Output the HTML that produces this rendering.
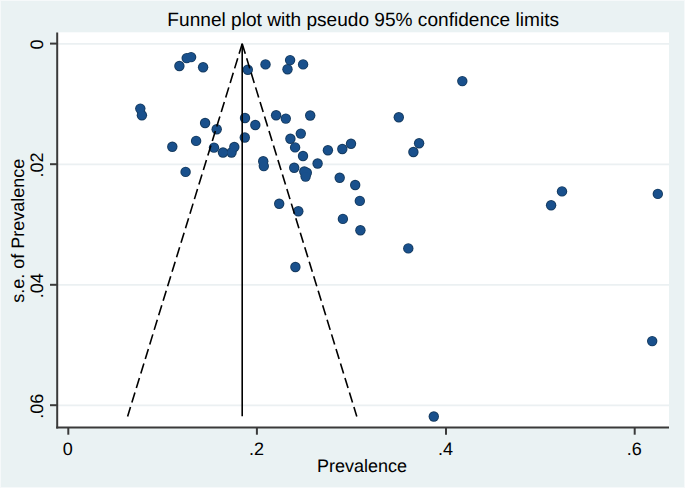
<!DOCTYPE html>
<html><head><meta charset="utf-8"><style>
html,body{margin:0;padding:0;background:#EAF2F3;}
body{width:685px;height:488px;overflow:hidden;}
svg{display:block;}
text{font-family:"Liberation Sans",sans-serif;fill:#000;text-rendering:geometricPrecision;}
</style></head><body>
<svg width="685" height="488" viewBox="0 0 685 488">
<rect x="0" y="0" width="685" height="488" fill="#F6F9FA"/>
<rect x="1" y="1" width="683" height="486" fill="#EAF2F3"/>
<rect x="58" y="32.3" width="611" height="395" fill="#FFFFFF"/>
<g stroke="#EBF0F2" stroke-width="1.8">
<line x1="58" y1="43.8" x2="669" y2="43.8"/>
<line x1="58" y1="164.3" x2="669" y2="164.3"/>
<line x1="58" y1="284.9" x2="669" y2="284.9"/>
<line x1="58" y1="405.3" x2="669" y2="405.3"/>
</g>
<g fill="#153A5E">
<circle cx="179.4" cy="66.0" r="5.2"/>
<circle cx="186.7" cy="58.1" r="5.2"/>
<circle cx="191.1" cy="57.1" r="5.2"/>
<circle cx="203.1" cy="67.3" r="5.2"/>
<circle cx="247.8" cy="69.7" r="5.2"/>
<circle cx="265.5" cy="64.4" r="5.2"/>
<circle cx="290.1" cy="60.1" r="5.2"/>
<circle cx="287.5" cy="69.3" r="5.2"/>
<circle cx="303.1" cy="64.4" r="5.2"/>
<circle cx="140.3" cy="108.6" r="5.2"/>
<circle cx="141.9" cy="115.3" r="5.2"/>
<circle cx="205.1" cy="123.0" r="5.2"/>
<circle cx="216.7" cy="129.3" r="5.2"/>
<circle cx="245.0" cy="118.0" r="5.2"/>
<circle cx="255.3" cy="125.0" r="5.2"/>
<circle cx="276.1" cy="115.3" r="5.2"/>
<circle cx="285.8" cy="118.6" r="5.2"/>
<circle cx="310.2" cy="115.5" r="5.2"/>
<circle cx="398.8" cy="117.3" r="5.2"/>
<circle cx="172.3" cy="146.8" r="5.2"/>
<circle cx="196.1" cy="140.9" r="5.2"/>
<circle cx="214.0" cy="147.6" r="5.2"/>
<circle cx="223.0" cy="152.5" r="5.2"/>
<circle cx="231.5" cy="152.5" r="5.2"/>
<circle cx="234.3" cy="147.0" r="5.2"/>
<circle cx="244.8" cy="137.5" r="5.2"/>
<circle cx="290.4" cy="138.7" r="5.2"/>
<circle cx="300.8" cy="133.6" r="5.2"/>
<circle cx="295.1" cy="147.4" r="5.2"/>
<circle cx="303.0" cy="156.0" r="5.2"/>
<circle cx="327.9" cy="150.3" r="5.2"/>
<circle cx="342.3" cy="149.0" r="5.2"/>
<circle cx="351.0" cy="143.8" r="5.2"/>
<circle cx="419.1" cy="143.2" r="5.2"/>
<circle cx="413.4" cy="152.0" r="5.2"/>
<circle cx="185.6" cy="171.9" r="5.2"/>
<circle cx="263.2" cy="161.3" r="5.2"/>
<circle cx="263.8" cy="166.1" r="5.2"/>
<circle cx="294.2" cy="167.7" r="5.2"/>
<circle cx="304.3" cy="171.5" r="5.2"/>
<circle cx="306.8" cy="172.8" r="5.2"/>
<circle cx="305.6" cy="176.6" r="5.2"/>
<circle cx="317.6" cy="163.5" r="5.2"/>
<circle cx="339.7" cy="177.7" r="5.2"/>
<circle cx="355.2" cy="185.0" r="5.2"/>
<circle cx="359.8" cy="200.9" r="5.2"/>
<circle cx="279.2" cy="203.8" r="5.2"/>
<circle cx="298.3" cy="211.2" r="5.2"/>
<circle cx="342.9" cy="218.9" r="5.2"/>
<circle cx="360.4" cy="230.2" r="5.2"/>
<circle cx="295.4" cy="267.0" r="5.2"/>
<circle cx="408.3" cy="248.4" r="5.2"/>
<circle cx="462.3" cy="81.1" r="5.2"/>
<circle cx="562.0" cy="191.4" r="5.2"/>
<circle cx="551.1" cy="205.2" r="5.2"/>
<circle cx="657.8" cy="193.9" r="5.2"/>
<circle cx="652.2" cy="341.1" r="5.2"/>
<circle cx="433.8" cy="416.5" r="5.2"/>
</g>
<g fill="#19508C">
<circle cx="179.4" cy="66.0" r="4.3"/>
<circle cx="186.7" cy="58.1" r="4.3"/>
<circle cx="191.1" cy="57.1" r="4.3"/>
<circle cx="203.1" cy="67.3" r="4.3"/>
<circle cx="247.8" cy="69.7" r="4.3"/>
<circle cx="265.5" cy="64.4" r="4.3"/>
<circle cx="290.1" cy="60.1" r="4.3"/>
<circle cx="287.5" cy="69.3" r="4.3"/>
<circle cx="303.1" cy="64.4" r="4.3"/>
<circle cx="140.3" cy="108.6" r="4.3"/>
<circle cx="141.9" cy="115.3" r="4.3"/>
<circle cx="205.1" cy="123.0" r="4.3"/>
<circle cx="216.7" cy="129.3" r="4.3"/>
<circle cx="245.0" cy="118.0" r="4.3"/>
<circle cx="255.3" cy="125.0" r="4.3"/>
<circle cx="276.1" cy="115.3" r="4.3"/>
<circle cx="285.8" cy="118.6" r="4.3"/>
<circle cx="310.2" cy="115.5" r="4.3"/>
<circle cx="398.8" cy="117.3" r="4.3"/>
<circle cx="172.3" cy="146.8" r="4.3"/>
<circle cx="196.1" cy="140.9" r="4.3"/>
<circle cx="214.0" cy="147.6" r="4.3"/>
<circle cx="223.0" cy="152.5" r="4.3"/>
<circle cx="231.5" cy="152.5" r="4.3"/>
<circle cx="234.3" cy="147.0" r="4.3"/>
<circle cx="244.8" cy="137.5" r="4.3"/>
<circle cx="290.4" cy="138.7" r="4.3"/>
<circle cx="300.8" cy="133.6" r="4.3"/>
<circle cx="295.1" cy="147.4" r="4.3"/>
<circle cx="303.0" cy="156.0" r="4.3"/>
<circle cx="327.9" cy="150.3" r="4.3"/>
<circle cx="342.3" cy="149.0" r="4.3"/>
<circle cx="351.0" cy="143.8" r="4.3"/>
<circle cx="419.1" cy="143.2" r="4.3"/>
<circle cx="413.4" cy="152.0" r="4.3"/>
<circle cx="185.6" cy="171.9" r="4.3"/>
<circle cx="263.2" cy="161.3" r="4.3"/>
<circle cx="263.8" cy="166.1" r="4.3"/>
<circle cx="294.2" cy="167.7" r="4.3"/>
<circle cx="304.3" cy="171.5" r="4.3"/>
<circle cx="306.8" cy="172.8" r="4.3"/>
<circle cx="305.6" cy="176.6" r="4.3"/>
<circle cx="317.6" cy="163.5" r="4.3"/>
<circle cx="339.7" cy="177.7" r="4.3"/>
<circle cx="355.2" cy="185.0" r="4.3"/>
<circle cx="359.8" cy="200.9" r="4.3"/>
<circle cx="279.2" cy="203.8" r="4.3"/>
<circle cx="298.3" cy="211.2" r="4.3"/>
<circle cx="342.9" cy="218.9" r="4.3"/>
<circle cx="360.4" cy="230.2" r="4.3"/>
<circle cx="295.4" cy="267.0" r="4.3"/>
<circle cx="408.3" cy="248.4" r="4.3"/>
<circle cx="462.3" cy="81.1" r="4.3"/>
<circle cx="562.0" cy="191.4" r="4.3"/>
<circle cx="551.1" cy="205.2" r="4.3"/>
<circle cx="657.8" cy="193.9" r="4.3"/>
<circle cx="652.2" cy="341.1" r="4.3"/>
<circle cx="433.8" cy="416.5" r="4.3"/>
</g>
<g stroke="#000" stroke-width="1.6" fill="none">
<line x1="242.2" y1="43.8" x2="242.2" y2="416.3"/>
<line x1="242.2" y1="43.8" x2="127.6" y2="416.4" stroke-dasharray="10.5 4.7"/>
<line x1="242.2" y1="43.8" x2="356.8" y2="416.4" stroke-dasharray="10.5 4.7"/>
</g>
<g stroke="#3a3a3a" stroke-width="2" fill="none">
<line x1="57.2" y1="32.6" x2="57.2" y2="428.5"/>
<line x1="56.2" y1="427.5" x2="669" y2="427.5"/>
<line x1="50" y1="43.6" x2="57" y2="43.6"/>
<line x1="50" y1="164.2" x2="57" y2="164.2"/>
<line x1="50" y1="284.8" x2="57" y2="284.8"/>
<line x1="50" y1="405.2" x2="57" y2="405.2"/>
<line x1="68.3" y1="428" x2="68.3" y2="434.7"/>
<line x1="256.9" y1="428" x2="256.9" y2="434.7"/>
<line x1="446.0" y1="428" x2="446.0" y2="434.7"/>
<line x1="634.7" y1="428" x2="634.7" y2="434.7"/>
</g>
<text transform="translate(363.2 25.8)" font-size="19.1" text-anchor="middle">Funnel plot with pseudo 95% confidence limits</text>
<g font-size="18" text-anchor="middle">
<text x="67.8" y="455">0</text>
<text x="256.4" y="455">.2</text>
<text x="445.5" y="455">.4</text>
<text x="634.2" y="455">.6</text>
<text x="362.0" y="471.8">Prevalence</text>
<text transform="translate(42.9 44.4) rotate(-90)">0</text>
<text transform="translate(42.9 165.1) rotate(-90)">.02</text>
<text transform="translate(42.9 285.8) rotate(-90)">.04</text>
<text transform="translate(42.9 406.2) rotate(-90)">.06</text>
<text transform="translate(24.1 230.7) rotate(-90)">s.e. of Prevalence</text>
</g>
</svg>
</body></html>
